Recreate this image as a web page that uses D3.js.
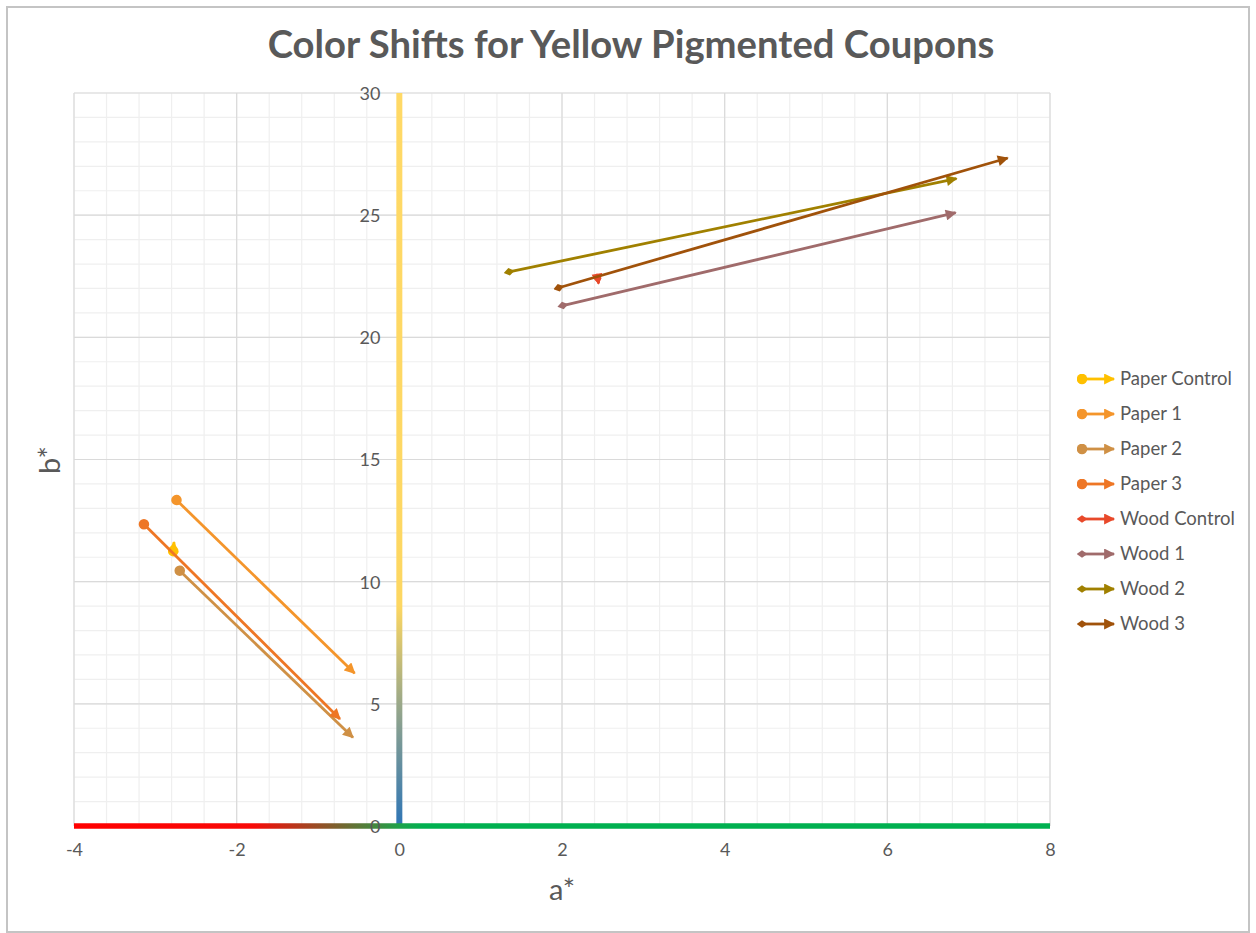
<!DOCTYPE html>
<html>
<head>
<meta charset="utf-8">
<script src="https://cdn.jsdelivr.net/npm/d3@7"></script>
<style>
  html, body { margin: 0; padding: 0; background: #fff; }
  svg { display: block; }
</style>
</head>
<body>
<svg id="chart" width="1256" height="933"></svg>
<script>
// Colour shift of each coupon: start point (a*, b*) -> end point (a*, b*)
const seriesNames = ["Paper Control", "Paper 1", "Paper 2", "Paper 3",
                     "Wood Control", "Wood 1", "Wood 2", "Wood 3"];
const startA = [-2.78, -2.74, -2.70, -3.14, 2.44, 2.01, 1.35, 1.96];
const startB = [11.25, 13.34, 10.45, 12.35, 22.40, 21.30, 22.68, 22.03];
const endA   = [-2.77, -0.55, -0.57, -0.73, 2.45, 6.84, 6.85, 7.48];
const endB   = [11.62, 6.25, 3.62, 4.38, 22.20, 25.10, 26.50, 27.34];
const markerShape = ["circle", "circle", "circle", "circle",
                     "diamond", "diamond", "diamond", "diamond"];
const seriesColors = ["#FFC000", "#F4952B", "#CF9045", "#EE7625",
                      "#E8492A", "#A06B6B", "#A08000", "#A0520A"];

const xTicks = [-4, -2, 0, 2, 4, 6, 8];
const yTicks = [0, 5, 10, 15, 20, 25, 30];

const titleText = "Color Shifts for Yellow Pigmented Coupons";
const xTitle = "a*";
const yTitle = "b*";

const svg = d3.select("#chart");
const W = 1256, H = 933;
const plot = { left: 74, right: 1050, top: 93, bottom: 826 };
const textColor = "#595959";
const fontFam = "Lato, 'Open Sans', sans-serif";

const x = d3.scaleLinear().domain([-4, 8]).range([plot.left, plot.right]);
const y = d3.scaleLinear().domain([0, 30]).range([plot.bottom, plot.top]);

// outer chart frame
svg.append("rect")
  .attr("x", 7).attr("y", 7).attr("width", W - 14).attr("height", H - 8)
  .attr("fill", "#fff").attr("stroke", "#C4C4C4").attr("stroke-width", 2);

const defs = svg.append("defs");

// axis gradients
const gx = defs.append("linearGradient").attr("id", "gradX")
  .attr("gradientUnits", "userSpaceOnUse")
  .attr("x1", x(-4)).attr("x2", x(8)).attr("y1", 0).attr("y2", 0);
gx.append("stop").attr("offset", 0).attr("stop-color", "#FF0000");
gx.append("stop").attr("offset", (x(-1.8) - x(-4)) / (x(8) - x(-4))).attr("stop-color", "#F80A08");
gx.append("stop").attr("offset", (x(0) - x(-4)) / (x(8) - x(-4))).attr("stop-color", "#1FA24A");
gx.append("stop").attr("offset", (x(0.3) - x(-4)) / (x(8) - x(-4))).attr("stop-color", "#00B050");
gx.append("stop").attr("offset", 1).attr("stop-color", "#00B050");

const gy = defs.append("linearGradient").attr("id", "gradY")
  .attr("gradientUnits", "userSpaceOnUse")
  .attr("x1", 0).attr("x2", 0).attr("y1", y(30)).attr("y2", y(0));
gy.append("stop").attr("offset", 0).attr("stop-color", "#FFD966");
gy.append("stop").attr("offset", (y(9) - y(30)) / (y(0) - y(30))).attr("stop-color", "#FDD762");
gy.append("stop").attr("offset", (y(5) - y(30)) / (y(0) - y(30))).attr("stop-color", "#9AA889");
gy.append("stop").attr("offset", 1).attr("stop-color", "#2E75B6");

// gridlines: minor then major
const g = svg.append("g");
const xMinor = d3.range(-4, 8.001, 0.4);
const yMinor = d3.range(0, 30.001, 1);
g.selectAll(".vmin").data(xMinor).join("line")
  .attr("x1", d => x(d)).attr("x2", d => x(d))
  .attr("y1", plot.top).attr("y2", plot.bottom)
  .attr("stroke", "#EFEFEF").attr("stroke-width", 1.2);
g.selectAll(".hmin").data(yMinor).join("line")
  .attr("x1", plot.left).attr("x2", plot.right)
  .attr("y1", d => y(d)).attr("y2", d => y(d))
  .attr("stroke", "#EFEFEF").attr("stroke-width", 1.2);
g.selectAll(".vmaj").data(xTicks).join("line")
  .attr("x1", d => x(d)).attr("x2", d => x(d))
  .attr("y1", plot.top).attr("y2", plot.bottom)
  .attr("stroke", "#DADADA").attr("stroke-width", 1.2);
g.selectAll(".hmaj").data(yTicks).join("line")
  .attr("x1", plot.left).attr("x2", plot.right)
  .attr("y1", d => y(d)).attr("y2", d => y(d))
  .attr("stroke", "#DADADA").attr("stroke-width", 1.2);

// axes via d3 axis generators (labels only, axis lines drawn as gradients)
const plainNum = d => String(d);
const xAxis = svg.append("g")
  .attr("transform", `translate(0,${plot.bottom})`)
  .call(d3.axisBottom(x).tickValues(xTicks).tickSize(0).tickPadding(17).tickFormat(plainNum));
const yAxis = svg.append("g")
  .attr("transform", `translate(${x(0)},0)`)
  .call(d3.axisLeft(y).tickValues(yTicks).tickSize(0).tickPadding(19).tickFormat(plainNum));
[xAxis, yAxis].forEach(a => {
  a.select(".domain").remove();
  a.selectAll("text").attr("fill", textColor)
    .style("font-family", fontFam).style("font-size", "18px");
});
yAxis.selectAll("text").attr("dy", "0.36em");
xAxis.selectAll("text").attr("dy", "0.71em");

// gradient axis lines
svg.append("line")
  .attr("x1", x(0)).attr("x2", x(0)).attr("y1", y(30)).attr("y2", y(0))
  .attr("stroke", "url(#gradY)").attr("stroke-width", 6);
svg.append("line")
  .attr("x1", x(-4)).attr("x2", x(8)).attr("y1", y(0)).attr("y2", y(0))
  .attr("stroke", "url(#gradX)").attr("stroke-width", 5.5);

// the y tick "0" label sits on top of the x axis line
yAxis.raise();

// per-series markers
seriesColors.forEach((c, i) => {
  defs.append("marker").attr("id", "arrow" + i)
    .attr("viewBox", "0 0 10 10").attr("refX", 9).attr("refY", 5)
    .attr("markerUnits", "userSpaceOnUse")
    .attr("markerWidth", 12).attr("markerHeight", 11)
    .attr("orient", "auto")
    .append("path").attr("d", "M0,0 L10,5 L0,10 Z").attr("fill", c);
  const m = defs.append("marker").attr("id", "start" + i)
    .attr("viewBox", "0 0 10 10").attr("refX", 5).attr("refY", 5)
    .attr("markerUnits", "userSpaceOnUse")
    .attr("markerWidth", 11).attr("markerHeight", 11)
    .attr("orient", "auto");
  if (markerShape[i] === "circle") {
    m.append("circle").attr("cx", 5).attr("cy", 5).attr("r", 4.8).attr("fill", c);
  } else {
    m.append("path").attr("d", "M0,5 L5,1.5 L10,5 L5,8.5 Z").attr("fill", c);
  }
});

// shift arrows
const shifts = seriesNames.map((n, i) => ({ i, x1: startA[i], y1: startB[i], x2: endA[i], y2: endB[i] }));
svg.append("g").selectAll("line").data(shifts).join("line")
  .attr("x1", d => x(d.x1)).attr("y1", d => y(d.y1))
  .attr("x2", d => x(d.x2)).attr("y2", d => y(d.y2))
  .attr("stroke", d => seriesColors[d.i]).attr("stroke-width", 2.8)
  .attr("marker-start", d => `url(#start${d.i})`)
  .attr("marker-end", d => `url(#arrow${d.i})`);

// legend
const leg = svg.append("g").attr("transform", "translate(1077,379)");
seriesNames.forEach((n, i) => {
  const row = leg.append("g").attr("transform", `translate(0,${i * 35})`);
  row.append("line").attr("x1", 5).attr("x2", 37).attr("y1", 0).attr("y2", 0)
    .attr("stroke", seriesColors[i]).attr("stroke-width", 2.8)
    .attr("marker-start", `url(#start${i})`)
    .attr("marker-end", `url(#arrow${i})`);
  row.append("text").attr("x", 43).attr("y", 0).attr("dy", "0.35em")
    .attr("fill", textColor).style("font-family", fontFam).style("font-size", "18.5px")
    .text(n);
});

// titles
const title = svg.append("text").attr("x", 631).attr("y", 45).attr("dy", "0.35em")
  .attr("text-anchor", "middle").attr("fill", textColor)
  .style("font-family", fontFam).style("font-weight", "bold").style("font-size", "32px")
  .text(titleText);
const tw = title.node().getComputedTextLength();
title.style("font-size", (32 * 727 / tw).toFixed(2) + "px");

svg.append("text").attr("x", 562).attr("y", 890).attr("dy", "0.35em")
  .attr("text-anchor", "middle").attr("fill", textColor)
  .style("font-family", fontFam).style("font-size", "29px").text(xTitle);
svg.append("text").attr("transform", "translate(50,460) rotate(-90)").attr("dy", "0.35em")
  .attr("text-anchor", "middle").attr("fill", textColor)
  .style("font-family", fontFam).style("font-size", "29px").text(yTitle);
</script>
</body>
</html>
